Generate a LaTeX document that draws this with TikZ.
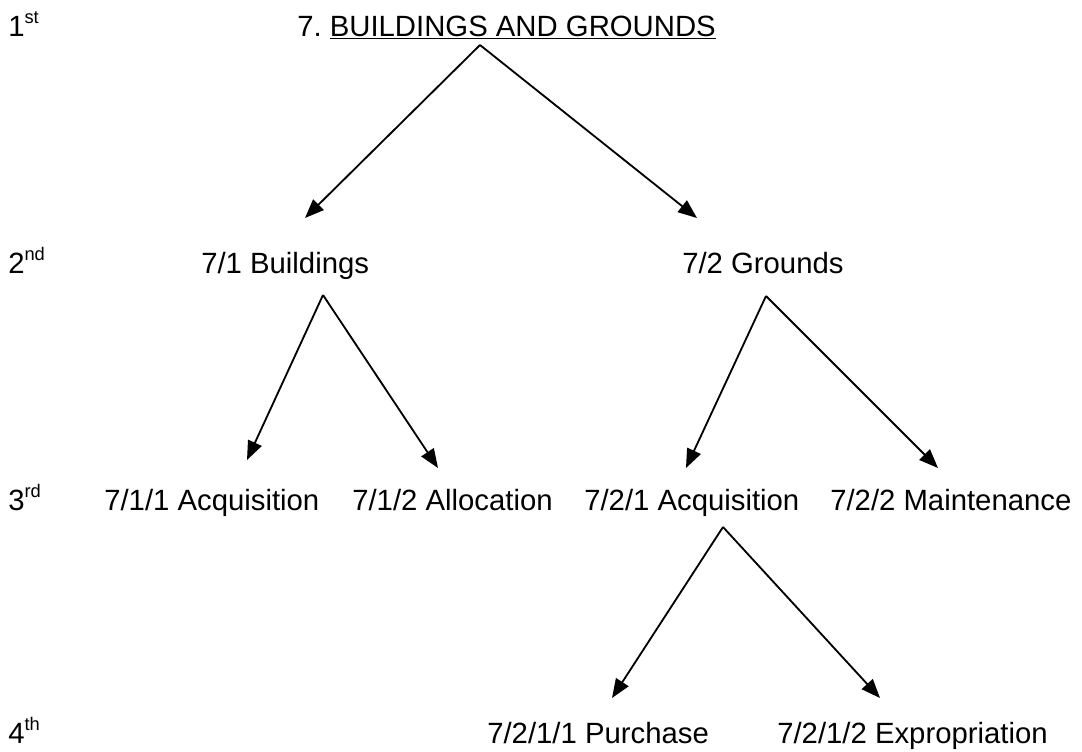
\documentclass[tikz,border=0pt]{standalone}
\usepackage{fontspec}
\setmainfont{Liberation Sans}
\usetikzlibrary{arrows.meta}
\frenchspacing

\newcommand{\lvlsup}[1]{\raisebox{9pt}{\fontsize{13}{13}\selectfont #1}}

\begin{document}
\begin{tikzpicture}[
  x=0.025cm, y=-0.025cm,
  >={Triangle[length=13.5pt,width=10.5pt]},
  font=\fontsize{20.84}{25}\selectfont,
  item/.style={inner sep=0pt, anchor=base west},
  lvl/.style={inner sep=0pt, anchor=base west},
  ar/.style={->, line width=1.3pt, draw=black}
]
\useasboundingbox (0,0) rectangle (1082,751);
% Level labels
\node[lvl] (lv1) at (8,36)  {1\lvlsup{st}};
\node[lvl] (lv2) at (8,273) {2\lvlsup{nd}};
\node[lvl] (lv3) at (8,510) {3\lvlsup{rd}};
\node[lvl] (lv4) at (8,743) {4\lvlsup{th}};
% Headings
\node[item] (title) at (297,36)  {7. \underline{BUILDINGS AND GROUNDS}};
\node[item] (bld)   at (201,273) {7/1 Buildings};
\node[item] (grd)   at (682,273) {7/2 Grounds};
\node[item] (acqb)  at (104,510) {7/1/1 Acquisition};
\node[item] (alc)   at (352,510) {7/1/2 Allocation};
\node[item] (acqg)  at (584,510) {7/2/1 Acquisition};
\node[item] (mnt)   at (830,510) {7/2/2 Maintenance};
\node[item] (pur)   at (487,743) {7/2/1/1 Purchase};
\node[item] (expr)  at (777,743) {7/2/1/2 Expropriation};
% Arrow ends
\coordinate (title-out) at (480,45);
\coordinate (bld-in)    at (305,218);
\coordinate (grd-in)    at (697,218);
\coordinate (bld-out)   at (323,295);
\coordinate (acqb-in)   at (247,460);
\coordinate (alc-in)    at (438,468);
\coordinate (grd-out)   at (766,296);
\coordinate (acqg-in)   at (686,468);
\coordinate (mnt-in)    at (938,468);
\coordinate (acqg-out)  at (723,527);
\coordinate (pur-in)    at (612,698);
\coordinate (expr-in)   at (880,698);
% Connectors
\draw[ar] (title-out) -- (bld-in);
\draw[ar] (title-out) -- (grd-in);
\draw[ar] (bld-out) -- (acqb-in);
\draw[ar] (bld-out) -- (alc-in);
\draw[ar] (grd-out) -- (acqg-in);
\draw[ar] (grd-out) -- (mnt-in);
\draw[ar] (acqg-out) -- (pur-in);
\draw[ar] (acqg-out) -- (expr-in);
\end{tikzpicture}
\end{document}
